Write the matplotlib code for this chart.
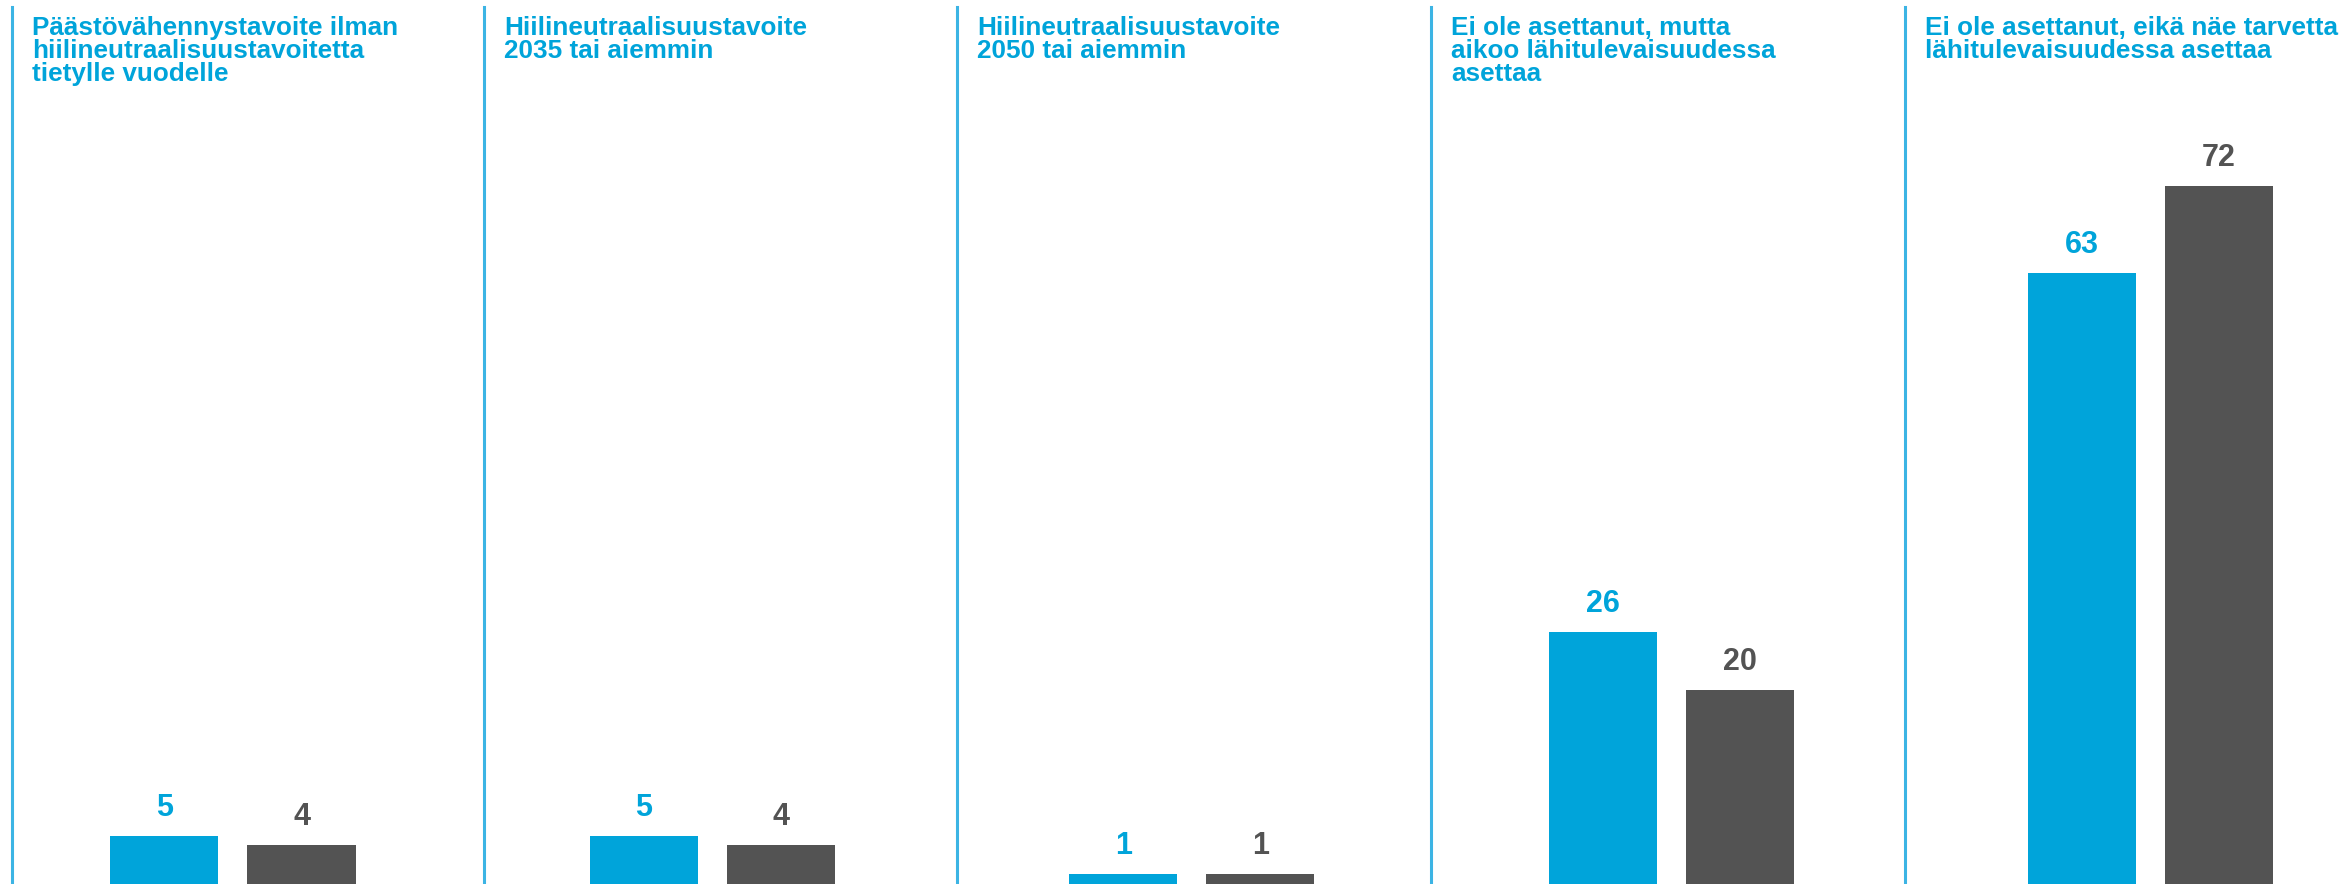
import matplotlib
matplotlib.use("Agg")
import matplotlib.pyplot as plt
from matplotlib.lines import Line2D
import numpy as np

# ---- data ----
categories = [
    "Päästövähennystavoite ilman\nhiilineutraalisuustavoitetta\ntietylle vuodelle",
    "Hiilineutraalisuustavoite\n2035 tai aiemmin",
    "Hiilineutraalisuustavoite\n2050 tai aiemmin",
    "Ei ole asettanut, mutta\naikoo lähitulevaisuudessa\nasettaa",
    "Ei ole asettanut, eikä näe tarvetta\nlähitulevaisuudessa asettaa",
]
series_a = [5, 5, 1, 26, 63]   # blue
series_b = [4, 4, 1, 20, 72]   # grey

# ---- style ----
BLUE = "#00A4DA"
GREY = "#535353"
SEP = "#3CB4E4"
W, H, DPI = 2346, 884, 100

plt.rcParams['font.family'] = ['Liberation Sans', 'DejaVu Sans']

fig = plt.figure(figsize=(W / DPI, H / DPI), dpi=DPI)
ax = fig.add_axes([0, 0, 1, 1])
ax.set_axis_off()

group_px = 479.4
first_px = 233.0
x0 = -first_px / group_px
ax.set_xlim(x0, x0 + W / group_px)
ax.set_ylim(0, H / 9.7)

x = np.arange(len(categories))
bw = 108 / group_px
off = 68.5 / group_px
ba = ax.bar(x - off, series_a, width=bw, color=BLUE, linewidth=0)
bb = ax.bar(x + off, series_b, width=bw, color=GREY, linewidth=0)

lbl_off = 20 * 72 / DPI
for bars, vals, col in ((ba, series_a, BLUE), (bb, series_b, GREY)):
    for r, v in zip(bars, vals):
        ax.annotate(f"{v}", (r.get_x() + r.get_width() / 2, r.get_height()),
                    xytext=(0, lbl_off), textcoords="offset points",
                    ha="center", va="baseline", fontsize=22,
                    fontweight="bold", color=col)

# separators and titles
sep_px = [12, 484, 957, 1431, 1905]
for sx, title in zip(sep_px, categories):
    fig.add_artist(Line2D([sx / W, sx / W], [0, 1 - 7 / H],
                          transform=fig.transFigure, color=SEP, linewidth=2.2))
    fig.text((sx + 20) / W, 1 - 16 / H, title, ha="left", va="top",
             fontsize=18.8, fontweight="bold", color=BLUE, linespacing=0.96)

fig.savefig("out.png", dpi=DPI, facecolor="white")
